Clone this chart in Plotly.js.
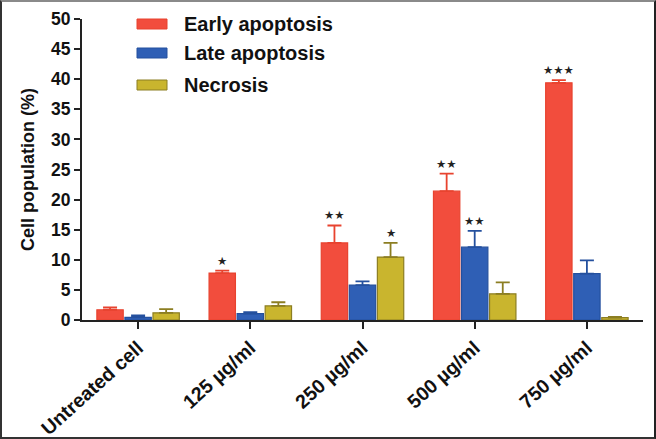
<!DOCTYPE html>
<html>
<head>
<meta charset="utf-8">
<script src="https://cdn.plot.ly/plotly-3.0.1.min.js"></script>
<style>
  html, body { margin: 0; padding: 0; background: #fff; }
  #wrap { position: relative; width: 656px; height: 439px; }
  #chart { position: absolute; left: 0; top: 0; width: 656px; height: 439px; }
  #frame { position: absolute; left: 0; top: 0; width: 652px; height: 435px;
           border-top: 2px solid #8a8a8a; border-left: 2px solid #333;
           border-right: 2px solid #222; border-bottom: 2px solid #333; pointer-events: none; }
</style>
</head>
<body>
<div id="wrap">
  <div id="chart"></div>
  <div id="frame"></div>
</div>
<script>
// ---- data ----
const categories = ["Untreated cell", "125 µg/ml", "250 µg/ml", "500 µg/ml", "750 µg/ml"];
const seriesNames = ["Early apoptosis", "Late apoptosis", "Necrosis"];

const earlyValues = [1.7, 7.8, 12.8, 21.4, 39.4];
const earlyErrors = [0.4, 0.4, 2.9, 2.9, 0.45];

const lateValues = [0.45, 1.05, 5.8, 12.1, 7.7];
const lateErrors = [0.3, 0.25, 0.6, 2.7, 2.2];

const necrosisValues = [1.2, 2.35, 10.45, 4.35, 0.4];
const necrosisErrors = [0.6, 0.6, 2.35, 1.9, 0.1];

const earlyStars = ["", "*", "**", "**", "***"];
const lateStars = ["", "", "", "**", ""];
const necrosisStars = ["", "", "*", "", ""];

const yTicks = [0, 5, 10, 15, 20, 25, 30, 35, 40, 45, 50];

// ---- styles ----
const fillColors = ["#F24D3D", "#2F5FB5", "#C9B52E"];
const lineColors = ["#E8432F", "#24509E", "#8C7E22"];
const FONT = "Liberation Sans, Arial, sans-serif";

const valueSets = [earlyValues, lateValues, necrosisValues];
const errorSets = [earlyErrors, lateErrors, necrosisErrors];
const starSets = [earlyStars, lateStars, necrosisStars];

const traces = valueSets.map((vals, i) => ({
  type: "bar",
  name: seriesNames[i],
  x: categories,
  y: vals,
  marker: { color: fillColors[i], line: { color: lineColors[i], width: 1.2 } },
  error_y: {
    type: "data", symmetric: false, array: errorSets[i],
    arrayminus: vals.map(() => 0),
    color: lineColors[i], thickness: 1.8, width: 7
  },
  showlegend: false,
  hoverinfo: "x+y"
}));

// group offsets in px (bar pitch)
const offsets = [-28.5, 0, 28.5];
const annotations = [];
starSets.forEach((stars, i) => {
  stars.forEach((s, j) => {
    if (!s) return;
    annotations.push({
      x: categories[j], y: valueSets[i][j] + errorSets[i][j],
      xref: "x", yref: "y", xshift: offsets[i], yshift: 1,
      yanchor: "bottom", showarrow: false,
      text: s.split("").map(() => "★").join(""),
      font: { family: "DejaVu Sans", size: 11.5, color: "#222" }
    });
  });
});

// custom legend (wide swatches like the original)
const px2x = p => (p - 82) / 561;
const px2y = p => (320 - p) / 301;
const legendRows = [24, 53, 85];
const shapes = [];
seriesNames.forEach((nm, i) => {
  const cy = legendRows[i];
  shapes.push({
    type: "rect", xref: "paper", yref: "paper",
    x0: px2x(137), x1: px2x(167), y0: px2y(cy + 5), y1: px2y(cy - 5),
    fillcolor: fillColors[i], line: { color: lineColors[i], width: 1 }
  });
  annotations.push({
    xref: "paper", yref: "paper", x: px2x(182), y: px2y(cy),
    xanchor: "left", yanchor: "middle", showarrow: false,
    text: "<b>" + nm + "</b>",
    font: { family: FONT, size: 20, color: "#111" }
  });
});

const layout = {
  width: 656, height: 439,
  margin: { l: 82, r: 13, t: 19, b: 119, pad: 0 },
  paper_bgcolor: "#fff", plot_bgcolor: "#fff",
  barmode: "group", bargap: 0.25, bargroupgap: 0.06,
  font: { family: FONT, color: "#111" },
  xaxis: {
    type: "category", range: [-0.5, 4.5],
    showline: true, linecolor: "#222", linewidth: 2,
    ticks: "outside", ticklen: 7, tickwidth: 2, tickcolor: "#222",
    tickangle: -42, showgrid: false, zeroline: false,
    tickfont: { family: FONT, size: 19.5, color: "#111", weight: "bold" }
  },
  yaxis: {
    range: [0, 50], tickvals: yTicks, ticktext: yTicks.map(String),
    showline: true, linecolor: "#222", linewidth: 2,
    ticks: "outside", ticklen: 6, tickwidth: 2, tickcolor: "#222",
    showgrid: false, zeroline: false,
    tickfont: { family: FONT, size: 17.5, color: "#111", weight: "bold" },
    title: { text: "<b>Cell population (%)</b>", standoff: 12,
             font: { family: FONT, size: 18, color: "#111" } }
  },
  shapes: shapes,
  annotations: annotations
};

Plotly.newPlot("chart", traces, layout, { displayModeBar: false, staticPlot: true });
</script>
</body>
</html>
